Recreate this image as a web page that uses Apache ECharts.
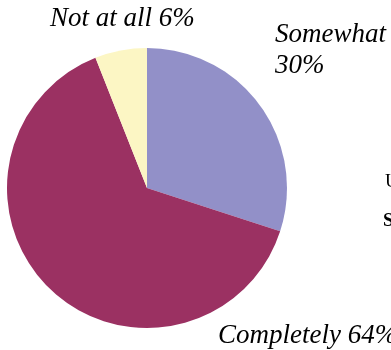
<!DOCTYPE html>
<html><head><meta charset="utf-8">
<script src="https://cdn.jsdelivr.net/npm/echarts@6/dist/echarts.min.js"></script>
<style>html,body{margin:0;padding:0;background:#fff}#c{width:391px;height:350px}</style>
</head><body><div id="c"></div>
<script>
var categories = ['Somewhat', 'Completely', 'Not at all'];
var values = [30, 64, 6];
var colors = ['#9290c8', '#9b3162', '#fcf6c4'];
var labelPos = [
  {x: 275, y: 19, align: 'left'},
  {x: 218, y: 320, align: 'left'},
  {x: 50, y: 3, align: 'left'}
];
var chart = echarts.init(document.getElementById('c'), null, {renderer: 'canvas'});
chart.setOption({
  animation: false,
  series: [{
    type: 'pie',
    center: [147, 188],
    radius: 140,
    startAngle: 90,
    clockwise: true,
    avoidLabelOverlap: false,
    data: categories.map(function (n, i) {
      return {name: n, value: values[i], itemStyle: {color: colors[i]}};
    }),
    label: {
      show: true,
      position: 'outside',
      overflow: 'none',
      fontFamily: 'Liberation Serif',
      fontStyle: 'italic',
      fontSize: 27,
      color: '#000',
      lineHeight: 31,
      formatter: function (p) {
        return p.dataIndex === 0 ? p.name + '\n' + p.value + '%' : p.name + ' ' + p.value + '%';
      }
    },
    labelLine: {show: false},
    labelLayout: function (p) {
      var lp = labelPos[p.dataIndex];
      return {x: lp.x, y: lp.y, align: lp.align, verticalAlign: 'top', hideOverlap: false, moveOverlap: null};
    }
  }],
  graphic: [
    {type: 'text', left: 385, top: 173, style: {text: 'U', font: '19px "Liberation Serif"', fill: '#000'}},
    {type: 'text', left: 383, top: 212, style: {text: 'S', font: 'bold 19px "Liberation Serif"', fill: '#000'}}
  ]
});
</script></body></html>
